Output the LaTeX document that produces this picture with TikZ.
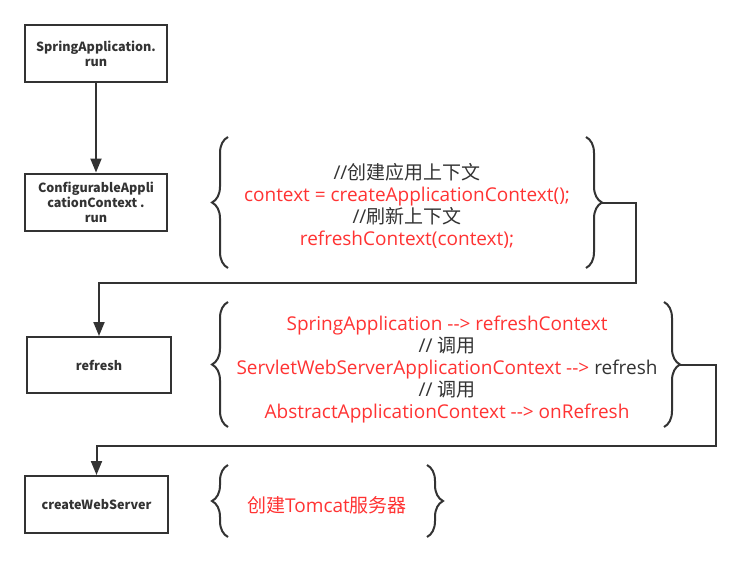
\documentclass[tikz,border=0pt]{standalone}
\usepackage{fontspec}
\setmainfont{Open Sans}
\newfontfamily\cjk{Noto Sans CJK SC}
\usetikzlibrary{decorations.pathreplacing, positioning, arrows.meta}
\definecolor{inkgray}{HTML}{333333}
\definecolor{codered}{HTML}{FF3333}
\tikzset{
  stepbox/.style={draw=inkgray, line width=2pt, minimum width=142pt, minimum height=57pt,
    align=center, text=inkgray, font=\cjk\fontsize{12.6}{15}\selectfont\bfseries, inner sep=2pt},
  note/.style={align=center, text=codered, font=\fontsize{19}{22}\selectfont, inner sep=0pt},
  curly/.style={draw=inkgray, line width=2pt, decorate, decoration={brace, amplitude=16pt}},
  flow/.style={draw=inkgray, line width=2pt, -{Triangle[length=14pt, width=11pt]}},
  wire/.style={draw=inkgray, line width=2pt}
}
\begin{document}
\begin{tikzpicture}[x=1pt, y=-1pt]
  \useasboundingbox[fill=white] (0,0) rectangle (740,562);

  % Draw the call boxes
  \node[stepbox] (run) at (96,53.5) {SpringApplication.\\run};
  \node[stepbox] (ctxrun) at (96,202) {ConfigurableAppli\\cationContext .\\run};
  \node[stepbox, minimum width=144pt, minimum height=56pt] (refresh) at (99,365) {refresh};
  \node[stepbox, minimum width=143pt] (webserver) at (96.5,504.5) {createWebServer};

  % Notes between braces
  \node[note] (ctxnote) at (407,206) {{\color{inkgray}//\cjk 创建应用上下文}\\
    context = createApplicationContext();\\
    {\color{inkgray}//\cjk 刷新上下文}\\
    refreshContext(context);};
  \node[note] (refnote) at (447,370) {SpringApplication -{}-> refreshContext\\
    {\color{inkgray}// {\cjk 调用}}\\
    ServletWebServerApplicationContext -{}-> {\color{inkgray}refresh}\\
    {\color{inkgray}// {\cjk 调用}}\\
    AbstractApplicationContext -{}-> onRefresh};
  \node[note] (tomcat) at (327,505) {{\cjk 创建}Tomcat{\cjk 服务器}};

  % Draw braces round the notes
  \draw[curly] (228,268) -- (228,137);
  \draw[curly] (586,137) -- (586,268);
  \draw[curly] (228,427) -- (228,302);
  \draw[curly] (664,302) -- (664,427);
  \draw[curly] (228,537) -- (228,465);
  \draw[curly] (427,465) -- (427,537);

  % Brace tips where the connectors start
  \coordinate (ctxtip) at (602,202.5);
  \coordinate (reftip) at (680,364.5);

  % Draw the connectors
  \draw[flow] (run) -- (ctxrun);
  \draw[flow] (ctxtip) -| (636,283) -| (refresh.north);
  \draw[flow] (reftip) -| (716,446) -| (webserver.north);
\end{tikzpicture}
\end{document}
